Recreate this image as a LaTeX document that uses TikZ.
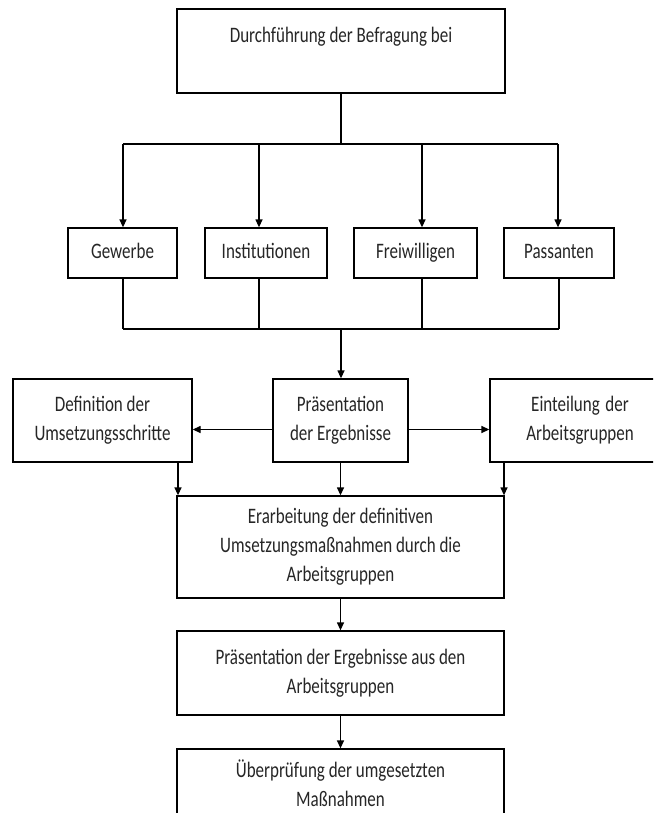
\documentclass[tikz,border=0pt]{standalone}
\usepackage{fontspec}
\setmainfont{Carlito}
\usepackage{graphicx}
\usetikzlibrary{arrows.meta}
\newcommand\stx[1]{\scalebox{1}[1.3]{\begin{tabular}{@{}c@{}}#1\end{tabular}}}
\tikzset{
  box/.style={draw, line width=1.3pt, inner sep=0pt, align=center,
    font=\fontsize{17}{22.3}\selectfont, text=black!85},
  ln/.style={line width=1.3pt},
  arr/.style={line width=1.3pt, -{Triangle[length=8pt,width=7pt]}}
}
\begin{document}
\begin{tikzpicture}[x=1pt,y=-1pt]
\path[use as bounding box, clip] (0,0) rectangle (653,813);
\fill[white] (0,0) rectangle (653,813);
% nodes
\node[box, minimum width=328pt, minimum height=84pt] (top) at (341,51) {\stx{Durchführung der Befragung bei\\ \mbox{}}};
\node[box, minimum width=109pt, minimum height=50pt] (gew) at (122.5,253) {\stx{Gewerbe}};
\node[box, minimum width=122pt, minimum height=50pt] (inst) at (266,253) {\stx{Institutionen}};
\node[box, minimum width=123pt, minimum height=50pt] (frei) at (415.5,253) {\stx{Freiwilligen}};
\node[box, minimum width=110pt, minimum height=50pt] (pass) at (559,253) {\stx{Passanten}};
\node[box, minimum width=179pt, minimum height=83pt] (def) at (102.5,420.5) {\stx{Definition der\\ Umsetzungsschritte}};
\node[box, minimum width=135pt, minimum height=83pt] (pres) at (340.5,420.5) {\stx{Präsentation\\ der Ergebnisse}};
\node[box, minimum width=180pt, minimum height=83pt, text width=163pt] (ein) at (580,420.5) {\stx{Einteilung der\\ Arbeitsgruppen}};
\node[box, minimum width=327pt, minimum height=102pt] (erb) at (340.5,547) {\stx{Erarbeitung der definitiven\\ Umsetzungsmaßnahmen durch die\\ Arbeitsgruppen}};
\node[box, minimum width=327pt, minimum height=84pt] (pra) at (340.5,673) {\stx{Präsentation der Ergebnisse aus den\\ Arbeitsgruppen}};
\node[box, minimum width=327pt, minimum height=74pt] (ueb) at (340.5,786) {\stx{Überprüfung der umgesetzten\\ Maßnahmen}};
% distribution from top
\coordinate (a1) at (123,144);
\coordinate (a2) at (259,144);
\coordinate (a3) at (422,144);
\coordinate (a4) at (558,144);
\draw[ln] (top.south) -- (top.south |- a1);
\draw[ln] (a1) -- (a4);
\draw[arr] (a1) -- (a1 |- gew.north);
\draw[arr] (a2) -- (a2 |- inst.north);
\draw[arr] (a3) -- (a3 |- frei.north);
\draw[arr] (a4) -- (a4 |- pass.north);
% collection
\coordinate (b1) at (123,329);
\coordinate (b2) at (259,329);
\coordinate (b3) at (422,329);
\coordinate (b4) at (559,329);
\coordinate (bh) at (341,329);
\draw[ln] (b1 |- gew.south) -- (b1);
\draw[ln] (b2 |- inst.south) -- (b2);
\draw[ln] (b3 |- frei.south) -- (b3);
\draw[ln] (b4 |- pass.south) -- (b4);
\draw[ln] (b1) -- (b4);
\draw[arr] (bh) -- (bh |- pres.north);
% side arrows
\draw[arr] ([yshift=-9pt]pres.west) -- ([yshift=-9pt]pres.west -| def.east);
\draw[arr] ([yshift=-9pt]pres.east) -- ([yshift=-9pt]pres.east -| ein.west);
% down arrows
\draw[arr] (def.south -| 178,0) -- (erb.north -| 178,0);
\draw[arr] (pres.south) -- (erb.north);
\draw[arr] (ein.south -| 504,0) -- (erb.north -| 504,0);
\draw[arr] (erb.south) -- (pra.north);
\draw[arr] (pra.south) -- (ueb.north);
\end{tikzpicture}
\end{document}
